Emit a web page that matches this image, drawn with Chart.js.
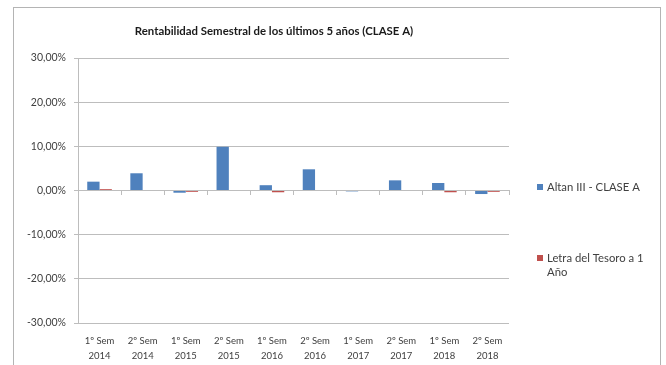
<!DOCTYPE html>
<html>
<head>
<meta charset="utf-8">
<script src="https://cdn.jsdelivr.net/npm/chart.js@4"></script>
<style>
  html, body { margin: 0; padding: 0; background: #fff; }
  #wrap { position: relative; width: 666px; height: 365px; overflow: hidden; }
  #frame { position: absolute; left: 13px; top: 7px; width: 648px; height: 400px;
           border: 1px solid #b4b4b4; box-sizing: border-box; pointer-events: none; }
  canvas { position: absolute; left: 0; top: 0; }
</style>
</head>
<body>
<div id="wrap">
  <canvas id="chart" width="666" height="365"></canvas>
  <div id="frame"></div>
</div>
<script>
// Semesters (two-line category labels)
const categories = [
  ['1º Sem', '2014'], ['2º Sem', '2014'],
  ['1º Sem', '2015'], ['2º Sem', '2015'],
  ['1º Sem', '2016'], ['2º Sem', '2016'],
  ['1º Sem', '2017'], ['2º Sem', '2017'],
  ['1º Sem', '2018'], ['2º Sem', '2018']
];

// Semester returns, in percent
const altanClaseA = [2.0, 3.9, -0.5, 9.9, 1.2, 4.8, -0.2, 2.3, 1.7, -0.8];
const letraTesoro = [0.3, 0.0, -0.3, 0.0, -0.4, 0.0, 0.0, 0.0, -0.4, -0.3];

const seriesNames = ['Altan III - CLASE A', 'Letra del Tesoro a 1 Año'];
const titleText = 'Rentabilidad Semestral de los últimos 5 años (CLASE A)';

// Value axis range and steps
const yMin = -30, yMax = 30, yStep = 10;

const FONT = 'Lato, "Open Sans", sans-serif';
const GRID = '#bdbdbd';
const TEXT = '#404040';

// Title centred over the frame's chart region
const topTitle = {
  id: 'topTitle',
  afterDraw(chart) {
    const ctx = chart.ctx;
    ctx.save();
    ctx.font = 'bold 11.4px ' + FONT;
    ctx.fillStyle = '#1a1a1a';
    ctx.textAlign = 'center';
    ctx.textBaseline = 'middle';
    ctx.fillText(titleText, 274, 31);
    ctx.restore();
  }
};

// Legend drawn at the right, with word wrapping for long names
const sideLegend = {
  id: 'sideLegend',
  afterDraw(chart) {
    const ctx = chart.ctx;
    const x0 = 537, maxW = 106, lineH = 14;
    const rows = [187, 258];
    ctx.save();
    ctx.font = '11.3px ' + FONT;
    ctx.textBaseline = 'middle';
    chart.data.datasets.forEach((ds, i) => {
      const y = rows[i];
      ctx.fillStyle = ds.backgroundColor;
      ctx.fillRect(x0, y - 3, 6, 6);
      // wrap label
      const words = ds.label.split(' ');
      const lines = [];
      let cur = '';
      words.forEach(w => {
        const t = cur ? cur + ' ' + w : w;
        if (ctx.measureText(t).width > maxW && cur) { lines.push(cur); cur = w; }
        else cur = t;
      });
      if (cur) lines.push(cur);
      ctx.fillStyle = TEXT;
      lines.forEach((l, k) => ctx.fillText(l, x0 + 10, y + k * lineH));
    });
    ctx.restore();
  }
};

new Chart(document.getElementById('chart'), {
  type: 'bar',
  data: {
    labels: categories,
    datasets: [
      { label: seriesNames[0], data: altanClaseA, backgroundColor: '#4f81bd' },
      { label: seriesNames[1], data: letraTesoro, backgroundColor: '#c0504d' }
    ]
  },
  options: {
    responsive: false,
    animation: false,
    events: [],
    layout: { padding: { left: 0, right: 157, top: 58, bottom: 0 } },
    datasets: { bar: { categoryPercentage: 2 / 3.5, barPercentage: 1 } },
    plugins: {
      legend: { display: false },
      tooltip: { enabled: false },
      title: { display: false }
    },
    scales: {
      x: {
        position: 'bottom',
        grid: { display: false, drawTicks: false },
        border: { display: false },
        ticks: {
          color: TEXT, maxRotation: 0, autoSkip: false, padding: 10,
          font: { family: FONT, size: 9.5, lineHeight: 1.6 }
        },
        afterFit: s => { s.height = 42; }
      },
      x2: {
        type: 'category',
        position: { y: 0 },
        offset: true,
        grid: { offset: true, drawOnChartArea: false, tickLength: 4, color: GRID },
        border: { display: true, color: GRID },
        ticks: { display: false }
      },
      y: {
        min: yMin, max: yMax,
        grid: { color: GRID, tickLength: 4 },
        border: { color: GRID },
        ticks: {
          stepSize: yStep, color: TEXT, padding: 8,
          font: { family: FONT, size: 10.5 },
          callback: v => v.toFixed(2).replace('.', ',') + '%'
        },
        afterFit: s => { s.width = 78; }
      }
    }
  },
  plugins: [topTitle, sideLegend]
});
</script>
</body>
</html>
